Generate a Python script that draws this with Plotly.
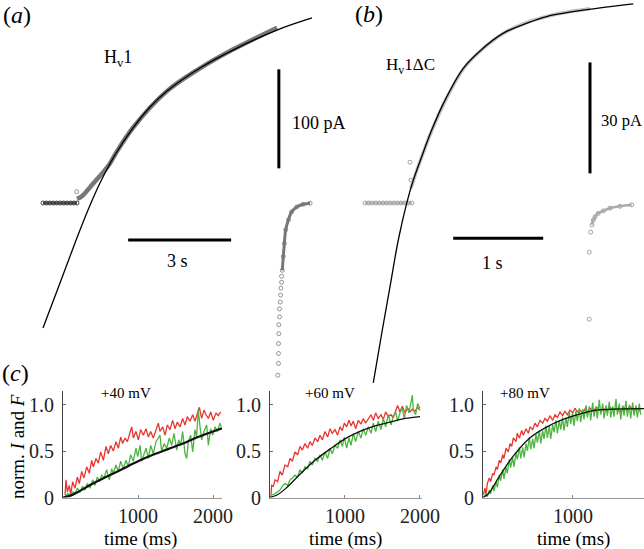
import plotly.graph_objects as go

# ---------------- panel (a): Hv1 current (time in s, current in pA) ----------------
a_base_t = [0.0, 0.1, 0.2, 0.3, 0.4, 0.5, 0.6, 0.7, 0.8, 0.9, 0.99]
a_base_i = [0, 0, 0, 0, 0, 0, 0, 0, 0, 0, 0]
a_out_t = [0.98]
a_out_i = [11.4]
a_data_t = [0.99, 1.14, 1.37, 1.57, 1.75, 1.95, 2.10, 2.62, 3.61, 4.57, 5.53, 6.82]
a_data_i = [4, 7, 16, 24, 31, 40, 49, 76, 113, 136, 155, 177]
a_fit_t = [0, 0.495, 0.932, 1.311, 1.660, 2.097, 2.622, 3.117, 3.612, 4.573, 5.534, 6.816, 7.836]
a_fit_i = [-126.3, -80.8, -40.4, -7.1, 20.2, 48.5, 75.8, 97.0, 113.1, 136.4, 154.5, 174.7, 186.9]
a_tail_t = [6.84, 6.86, 6.86, 6.86, 6.87, 6.87, 6.89, 6.89, 6.91, 6.92, 6.93,
            6.95, 6.95, 6.97, 7.00, 7.03, 7.07, 7.15, 7.24, 7.39, 7.58, 7.78]
a_tail_i = [-174, -162, -152, -142, -132, -123, -115, -107, -100, -93, -86,
            -80, -74, -68, -54, -41, -27, -17, -9, -4, -1.3, -0.3]
a_vbar_t, a_vbar_i = [6.87, 6.87], [35, 135]      # 100 pA
a_hbar_t, a_hbar_i = [2.48, 5.48], [-37.4, -37.4]  # 3 s

# ---------------- panel (b): Hv1dC current ----------------
b_base_t = [0, 0.04, 0.08, 0.12, 0.16, 0.2, 0.24, 0.28, 0.32, 0.36, 0.4, 0.44, 0.48, 0.52]
b_base_i = [0, 0, 0, 0, 0, 0, 0, 0, 0, 0, 0, 0, 0, 0]
b_out_t = [0.50, 0.511]
b_out_i = [11.0, 6.2]
b_data_t = [0.51, 0.6, 0.75, 0.9, 1.1, 1.3, 1.55, 1.8, 2.05, 2.3, 2.5]
b_data_i = [4, 10.5, 20, 28, 36.5, 41.5, 46, 48.8, 50.6, 51.8, 52.5]
b_fit_t = [0.092, 0.186, 0.278, 0.37, 0.463, 0.537, 0.63, 0.741, 0.889, 1.092,
           1.278, 1.537, 1.778, 2.019, 2.574, 2.981]
b_fit_i = [-48.6, -35.2, -22.6, -10.0, -0.1, 6.2, 12.5, 19.7, 27.8, 36.4,
           41.1, 45.9, 48.4, 50.4, 52.6, 53.8]
b_tail_t = [2.492, 2.492, 2.508, 2.522, 2.537, 2.556, 2.592, 2.648, 2.722, 2.833, 2.963]
b_tail_i = [-31.4, -13.3, -7.9, -5.9, -4.6, -3.7, -2.8, -2.1, -1.4, -0.9, -0.5]
b_vbar_t, b_vbar_i = [2.5, 2.5], [8, 38]        # 30 pA
b_hbar_t, b_hbar_i = [0.98, 1.98], [-9.5, -9.5]  # 1 s

# ---------------- panel (c): normalised I (green) and F (red) ----------------
c1_red_t = [27, 40, 58, 84, 102, 129, 160, 191, 218, 249, 280, 316, 351, 382, 404, 440, 471,
            502, 538, 573, 604, 636, 671, 707, 738, 769, 795, 827, 858, 893, 916, 938, 973,
            1004, 1036, 1071, 1107, 1138, 1169, 1204, 1240, 1271, 1293, 1329, 1360, 1391,
            1427, 1462, 1493, 1524, 1560, 1595, 1627, 1658, 1693, 1729, 1760, 1791, 1818,
            1849, 1880, 1907, 1938, 1969, 2004, 2040, 2071, 2102]
c1_red_v = [0.03, 0.19, 0.06, 0.13, 0.03, 0.17, 0.10, 0.22, 0.15, 0.28, 0.21, 0.33, 0.26, 0.40,
            0.33, 0.42, 0.37, 0.49, 0.40, 0.55, 0.47, 0.56, 0.50, 0.60, 0.53, 0.65, 0.58, 0.64,
            0.60, 0.69, 0.76, 0.64, 0.71, 0.62, 0.73, 0.67, 0.74, 0.65, 0.71, 0.64, 0.74, 0.80,
            0.71, 0.76, 0.67, 0.78, 0.73, 0.83, 0.74, 0.81, 0.76, 0.85, 0.78, 0.87, 0.82, 0.89,
            0.82, 0.91, 0.97, 0.85, 0.94, 0.89, 0.85, 0.92, 0.83, 0.91, 0.88, 0.92]
c1_grn_t = [27, 58, 93, 129, 160, 191, 227, 262, 293, 324, 360, 396, 427, 458, 484, 516, 547,
            582, 618, 649, 671, 707, 738, 769, 804, 840, 871, 902, 938, 973, 996, 1027, 1049,
            1080, 1107, 1138, 1169, 1204, 1240, 1271, 1293, 1316, 1347, 1382, 1418, 1449, 1480,
            1516, 1542, 1569, 1595, 1627, 1649, 1671, 1702, 1729, 1760, 1782, 1804, 1827, 1849,
            1880, 1916, 1938, 1969, 1996, 2027, 2058, 2093, 2110]
c1_grn_v = [0.01, 0.04, 0.03, 0.06, 0.04, 0.10, 0.06, 0.12, 0.08, 0.15, 0.10, 0.19, 0.13, 0.22,
            0.17, 0.24, 0.21, 0.30, 0.19, 0.31, 0.26, 0.35, 0.28, 0.39, 0.31, 0.40, 0.33, 0.46,
            0.39, 0.53, 0.44, 0.56, 0.39, 0.47, 0.53, 0.42, 0.56, 0.47, 0.60, 0.64, 0.67, 0.49,
            0.58, 0.53, 0.64, 0.56, 0.69, 0.51, 0.62, 0.56, 0.71, 0.47, 0.42, 0.60, 0.67, 0.49,
            0.73, 0.65, 0.94, 0.76, 0.62, 0.71, 0.78, 0.56, 0.74, 0.67, 0.76, 0.71, 0.80, 0.76]
c1_fit_t = [0, 100, 200, 400, 600, 800, 1000, 1200, 1400, 1600, 1800, 2000, 2120]
c1_fit_v = [0, 0.02, 0.06, 0.15, 0.23, 0.31, 0.39, 0.46, 0.52, 0.58, 0.65, 0.71, 0.745]

c2_red_t = [13, 22, 44, 67, 102, 133, 164, 200, 236, 267, 298, 333, 369, 400, 431, 467, 502,
            533, 564, 600, 635, 667, 698, 733, 769, 800, 831, 867, 902, 933, 964, 991, 1022,
            1053, 1080, 1111, 1142, 1178, 1213, 1244, 1275, 1311, 1347, 1378, 1409, 1444, 1480,
            1511, 1542, 1578, 1613, 1644, 1676, 1702, 1733, 1764, 1800, 1836, 1867, 1898, 1933,
            1969, 2000]
c2_red_v = [0.03, 0.13, 0.12, 0.19, 0.17, 0.28, 0.24, 0.35, 0.33, 0.42, 0.39, 0.49, 0.46, 0.55,
            0.51, 0.58, 0.53, 0.60, 0.56, 0.64, 0.60, 0.67, 0.62, 0.71, 0.65, 0.74, 0.69, 0.73,
            0.67, 0.76, 0.72, 0.80, 0.76, 0.83, 0.77, 0.82, 0.74, 0.83, 0.79, 0.85, 0.80, 0.84,
            0.89, 0.83, 0.91, 0.85, 0.89, 0.84, 0.92, 0.87, 0.89, 0.86, 0.94, 0.99, 0.92, 0.98,
            0.91, 0.96, 0.92, 0.95, 0.93, 0.97, 0.94]
c2_grn_t = [0, 31, 67, 102, 133, 164, 200, 236, 267, 298, 333, 369, 400, 431, 467, 502, 533,
            564, 600, 635, 667, 698, 733, 769, 800, 831, 867, 902, 933, 964, 991, 1022, 1053,
            1080, 1111, 1142, 1178, 1213, 1244, 1275, 1311, 1347, 1378, 1409, 1444, 1480, 1511,
            1542, 1578, 1613, 1644, 1676, 1702, 1733, 1764, 1791, 1822, 1853, 1880, 1898, 1911,
            1942, 1969, 2000]
c2_grn_v = [0.01, 0.03, 0.04, 0.06, 0.08, 0.12, 0.15, 0.13, 0.19, 0.21, 0.24, 0.22, 0.30, 0.26,
            0.33, 0.31, 0.39, 0.35, 0.42, 0.39, 0.46, 0.40, 0.49, 0.42, 0.53, 0.47, 0.56, 0.53,
            0.62, 0.55, 0.65, 0.53, 0.64, 0.56, 0.69, 0.60, 0.71, 0.64, 0.74, 0.67, 0.76, 0.69,
            0.80, 0.71, 0.82, 0.73, 0.85, 0.76, 0.89, 0.78, 0.87, 0.92, 0.82, 0.91, 0.96, 0.85,
            0.99, 0.91, 1.03, 1.10, 0.94, 0.89, 1.01, 0.96]
c2_fit_t = [0, 100, 200, 400, 600, 800, 1000, 1200, 1400, 1600, 1800, 2000]
c2_fit_v = [0, 0.03, 0.09, 0.25, 0.40, 0.52, 0.63, 0.71, 0.77, 0.81, 0.85, 0.87]

c3_red_t = [4, 22, 33, 48, 70, 85, 107, 122, 145, 159, 181, 196, 219, 233, 256, 281, 300, 319,
            337, 367, 381, 404, 430, 448, 478, 504, 522, 552, 578, 604, 633, 663, 689, 715, 744,
            774, 800, 826, 856, 885, 911, 937, 967, 996, 1022, 1048, 1078, 1107, 1133, 1159,
            1189, 1226, 1263, 1300, 1337, 1374, 1411, 1448, 1485, 1522, 1559, 1596, 1633, 1670,
            1707, 1744]
c3_red_v = [0.03, 0.10, 0.03, 0.15, 0.21, 0.17, 0.26, 0.24, 0.33, 0.30, 0.40, 0.37, 0.46, 0.42,
            0.53, 0.49, 0.58, 0.55, 0.64, 0.60, 0.69, 0.64, 0.72, 0.67, 0.74, 0.69, 0.76, 0.73,
            0.80, 0.76, 0.83, 0.80, 0.85, 0.82, 0.88, 0.83, 0.89, 0.86, 0.92, 0.88, 0.93, 0.89,
            0.94, 0.91, 0.96, 0.92, 0.94, 0.91, 0.95, 0.92, 0.96, 0.93, 0.97, 0.94, 0.96, 0.93,
            0.97, 0.94, 0.96, 0.92, 0.97, 0.94, 0.98, 0.94, 0.96, 0.93]
c3_grn_t = [11, 33, 48, 70, 85, 107, 122, 145, 159, 181, 196, 219, 233, 256, 270, 293, 307, 330,
            344, 367, 381, 404, 419, 441, 456, 478, 493, 515, 530, 552, 567, 589, 604, 626, 641,
            663, 678, 700, 715, 737, 752, 774, 789, 811, 826, 848, 863, 885, 900, 922, 937, 959,
            974, 996, 1011, 1033, 1048, 1070, 1085, 1107, 1122, 1145, 1159, 1182, 1196, 1219,
            1233, 1256, 1270, 1293, 1308, 1330, 1345, 1367, 1382, 1404, 1419, 1441, 1456, 1478,
            1493, 1515, 1530, 1552, 1567, 1589, 1604, 1626, 1641, 1663, 1678, 1700, 1715, 1737,
            1752]
c3_grn_v = [0.01, 0.04, 0.01, 0.08, 0.04, 0.13, 0.07, 0.17, 0.11, 0.24, 0.18, 0.30, 0.20, 0.33,
            0.26, 0.41, 0.32, 0.43, 0.33, 0.48, 0.41, 0.54, 0.42, 0.54, 0.43, 0.58, 0.50, 0.65,
            0.52, 0.63, 0.53, 0.68, 0.59, 0.72, 0.58, 0.72, 0.63, 0.77, 0.64, 0.77, 0.63, 0.78,
            0.70, 0.83, 0.69, 0.83, 0.73, 0.86, 0.72, 0.86, 0.76, 0.92, 0.79, 0.91, 0.77, 0.93,
            0.82, 0.96, 0.81, 0.95, 0.84, 0.99, 0.86, 0.98, 0.83, 1.02, 0.87, 0.98, 0.85, 1.05,
            0.89, 1.01, 0.85, 0.99, 0.88, 1.03, 0.86, 0.98, 0.87, 1.06, 0.89, 1.01, 0.84, 0.99,
            0.88, 1.04, 0.87, 1.00, 0.85, 1.02, 0.88, 0.99, 0.86, 1.01, 0.89]
c3_fit_t = [0, 60, 190, 340, 520, 710, 890, 1080, 1260, 1450, 1790]
c3_fit_v = [0, 0.04, 0.24, 0.45, 0.64, 0.76, 0.84, 0.90, 0.94, 0.95, 0.955]

RED = '#e8352f'
GREEN = '#4db440'
FONT = 'Liberation Serif'
W, H = 644, 549

fig = go.Figure()


def line(x, y, ax, color, width, shape='linear'):
    fig.add_trace(go.Scatter(x=x, y=y, mode='lines', xaxis='x' + ax, yaxis='y' + ax,
                             line=dict(color=color, width=width, shape=shape),
                             hoverinfo='skip', showlegend=False))


def dots(x, y, ax, color, size=4):
    fig.add_trace(go.Scatter(x=x, y=y, mode='markers', xaxis='x' + ax, yaxis='y' + ax,
                             marker=dict(symbol='circle-open', size=size, color=color,
                                         line=dict(width=0.9, color=color)),
                             hoverinfo='skip', showlegend=False))


# panel (a)  -> axis '' (x / y)
line(a_base_t, a_base_i, '', '#555', 3)
dots(a_base_t, a_base_i, '', '#333')
dots(a_out_t, a_out_i, '', '#888')
line(a_data_t, a_data_i, '', '#777', 4.5, 'spline')
line(a_fit_t, a_fit_i, '', 'black', 1.3, 'spline')
dots(a_tail_t, a_tail_i, '', '#888')
line(a_tail_t[13:], a_tail_i[13:], '', '#777', 3, 'spline')
line(a_vbar_t, a_vbar_i, '', 'black', 3)
line(a_hbar_t, a_hbar_i, '', 'black', 3)

# panel (b)  -> axis 2
line(b_base_t, b_base_i, '2', '#bbb', 2.5)
dots(b_base_t, b_base_i, '2', '#999')
dots(b_out_t, b_out_i, '2', '#999')
line(b_data_t, b_data_i, '2', '#c2c2c2', 3.5, 'spline')
line(b_fit_t, b_fit_i, '2', 'black', 1.3, 'spline')
dots(b_tail_t, b_tail_i, '2', '#999')
line(b_tail_t[3:], b_tail_i[3:], '2', '#aaa', 2.5, 'spline')
line(b_vbar_t, b_vbar_i, '2', 'black', 3)
line(b_hbar_t, b_hbar_i, '2', 'black', 3)

# panel (c)  -> axes 3, 4, 5
line(c1_red_t, c1_red_v, '3', RED, 1.3)
line(c1_grn_t, c1_grn_v, '3', GREEN, 1.3)
line(c1_fit_t, c1_fit_v, '3', '#111', 2.2, 'spline')
line(c2_red_t, c2_red_v, '4', RED, 1.3)
line(c2_grn_t, c2_grn_v, '4', GREEN, 1.3)
line(c2_fit_t, c2_fit_v, '4', '#111', 1.3, 'spline')
line(c3_red_t, c3_red_v, '5', RED, 1.3)
line(c3_grn_t, c3_grn_v, '5', GREEN, 1.3)
line(c3_fit_t, c3_fit_v, '5', '#111', 1.3, 'spline')


def px(x):
    return x / W


def py(y):
    return 1 - y / H


hidden = dict(visible=False, showgrid=False, zeroline=False, fixedrange=True, automargin=False)
cy_dom = [py(497.5), py(391)]
cy_rng = [0, (497.5 - 391) / 93]

yax_c = dict(range=cy_rng, domain=cy_dom, showgrid=False, zeroline=False, automargin=False,
             showline=True, linecolor='#444', linewidth=1.2,
             ticks='inside', ticklen=3, tickcolor='#666',
             tickvals=[0, 0.5, 1.0], ticktext=['0', '0.5', '1.0'],
             tickfont=dict(family=FONT, size=20, color='#222'), ticklabelstandoff=4)


def xax_c(dom, rng, vals):
    return dict(domain=dom, range=rng, showgrid=False, zeroline=False, automargin=False,
                showline=True, linecolor='#999', linewidth=1,
                ticks='inside', ticklen=3, tickcolor='#888',
                tickvals=vals, ticktext=[str(v) for v in vals],
                tickfont=dict(family=FONT, size=20, color='#222'), ticklabelstandoff=0)


fig.update_layout(
    width=W, height=H, autosize=False,
    margin=dict(l=0, r=0, t=0, b=0),
    paper_bgcolor='white', plot_bgcolor='rgba(0,0,0,0)',
    xaxis=dict(domain=[0, px(330)], range=[-43 / 34.33, (330 - 43) / 34.33], **hidden),
    yaxis=dict(domain=[0, 1], range=[-346 / 0.99, 203 / 0.99], **hidden),
    xaxis2=dict(domain=[px(330), 1], range=[-35 / 90, 279 / 90], **hidden),
    yaxis2=dict(domain=[0, 1], range=[-346 / 3.7, 203 / 3.7], anchor='x2', **hidden),
    xaxis3=xax_c([px(63), px(222)], [0, 2120], [1000, 2000]),
    yaxis3=dict(anchor='x3', **yax_c),
    xaxis4=xax_c([px(270), px(422)], [0, 2027], [1000, 2000]),
    yaxis4=dict(anchor='x4', **yax_c),
    xaxis5=xax_c([px(483), 1], [0, 1789], [1000]),
    yaxis5=dict(anchor='x5', **yax_c),
)
fig.update_layout(xaxis3_anchor='y3', xaxis4_anchor='y4', xaxis5_anchor='y5',
                  xaxis2_anchor='y2')

ann = []


def text(s, x, y, size=18, xanchor='center', angle=0, xref='paper', yref='paper'):
    ann.append(dict(text=s, x=x, y=y, xref=xref, yref=yref, showarrow=False,
                    xanchor=xanchor, yanchor='middle', textangle=angle,
                    font=dict(family=FONT, size=size, color='black')))


# panel letters
text('(<i>a</i>)', px(17), py(15), 24)
text('(<i>b</i>)', px(369), py(14), 24)
text('(<i>c</i>)', px(16), py(373), 24)
# construct names
text('H<sub>v</sub>1', px(118), py(58), 18)
text('H<sub>v</sub>1ΔC', px(410), py(66), 17)
# scale bar labels (data coordinates)
text('100 pA', 7.19, 81, 18, 'left', xref='x', yref='y')
text('3 s', 3.93, -59, 18, xref='x', yref='y')
text('30 pA', 2.6, 22.4, 16.5, 'left', xref='x2', yref='y2')
text('1 s', 1.422, -16.2, 18, xref='x2', yref='y2')
# panel (c) labels
text('+40 mV', px(126), py(393), 15)
text('+60 mV', px(330), py(393), 15)
text('+80 mV', px(525), py(393), 15)
for cx in (140, 345, 573):
    text('time (ms)', px(cx), py(539), 19)
text('norm. <i>I</i> and <i>F</i>', px(17), py(447), 19, angle=-90)

fig.update_layout(annotations=ann)

# the page body normally has an 8px margin; drop it so the figure fills the window
fig.write_html("out.html", config={'displayModeBar': False},
               post_script="document.body.style.margin='0';")
